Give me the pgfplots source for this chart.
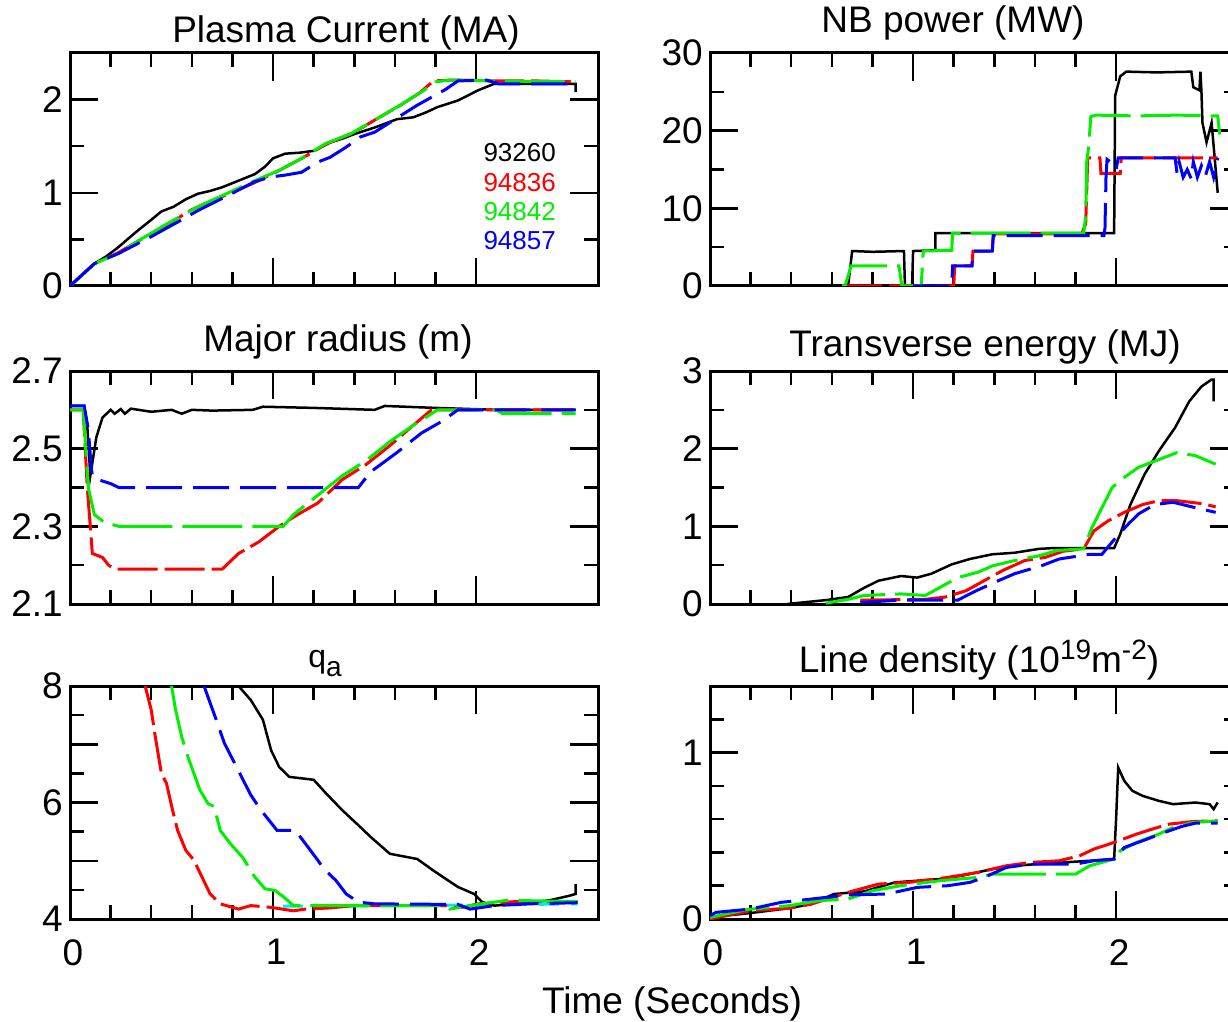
\documentclass[border=0pt]{standalone}
\usepackage{fontspec}
\setmainfont{Liberation Sans}
\usepackage{pgfplots}
\pgfplotsset{compat=1.18}
\definecolor{pgreen}{RGB}{0,240,0}
\definecolor{pred}{RGB}{255,0,0}
\definecolor{pblue}{RGB}{0,0,255}
\definecolor{pcyan}{RGB}{0,230,255}
\pgfplotsset{
  panel/.style={
    scale only axis, width=528pt, height=233pt, anchor=south west,
    xmin=0, xmax=2.6, xtick={0,1,2}, minor x tick num=4,
    tick align=inside, xtick pos=both, ytick pos=both,
    major tick length=28pt, minor tick length=14pt,
    tick style={line width=2.5pt, black},
    axis line style={line width=3pt},
    xticklabels={},
    every tick label/.append style={font=\fontsize{37}{40}\selectfont},
    yticklabel style={inner sep=0pt, xshift=-7pt},
    xticklabel style={inner sep=0pt, yshift=-20pt, xshift=3pt},
    /pgf/number format/assume math mode=true,
  },
  sblack/.style={black, line width=2.5pt},
  sred/.style={pred, line width=3pt, dash pattern=on 40pt off 7pt},
  sgreen/.style={pgreen, line width=3pt, dash pattern=on 60pt off 10pt},
  sblue/.style={pblue, line width=3pt, dash pattern=on 36pt off 11pt},
  scyan/.style={pcyan, line width=3pt, dash pattern=on 20pt off 12pt},
}
\newcommand{\bigf}{\fontsize{37}{40}\selectfont}
\begin{document}
\begin{tikzpicture}
\useasboundingbox (0,0) rectangle (1228pt,1021pt);
% ---------- Plasma current ----------
\begin{axis}[panel, at={(70pt,735pt)}, ymin=0, ymax=2.5, ytick={0,1,2}, minor y tick num=1]
\addplot[sblack] coordinates {(0,0)(0.06,0.12)(0.12,0.24)(0.18,0.32)(0.24,0.42)(0.32,0.57)(0.40,0.71)(0.45,0.80)(0.51,0.85)(0.57,0.93)(0.63,0.99)(0.69,1.02)(0.75,1.06)(0.83,1.13)(0.91,1.20)(0.96,1.28)(1.00,1.37)(1.06,1.42)(1.13,1.43)(1.20,1.45)(1.28,1.54)(1.34,1.58)(1.40,1.63)(1.50,1.70)(1.61,1.79)(1.69,1.81)(1.75,1.86)(1.81,1.92)(1.91,1.99)(2.01,2.10)(2.09,2.17)(2.30,2.17)(2.49,2.17)(2.49,2.08)};
\addplot[sred] coordinates {(0,0)(0.12,0.24)(0.24,0.36)(0.35,0.50)(0.48,0.66)(0.60,0.82)(0.75,0.96)(0.90,1.10)(1.03,1.24)(1.15,1.38)(1.26,1.52)(1.40,1.65)(1.50,1.78)(1.62,1.93)(1.72,2.07)(1.79,2.20)(1.88,2.21)(2.10,2.20)(2.30,2.20)(2.49,2.19)};
\addplot[sgreen] coordinates {(0,0)(0.06,0.12)(0.12,0.24)(0.24,0.35)(0.34,0.49)(0.48,0.67)(0.63,0.85)(0.75,0.97)(0.91,1.13)(1.03,1.24)(1.14,1.37)(1.26,1.53)(1.38,1.63)(1.50,1.78)(1.61,1.92)(1.73,2.08)(1.80,2.19)(1.87,2.21)(2.10,2.20)(2.49,2.19)};
\addplot[sblue] coordinates {(0,0)(0.06,0.12)(0.12,0.24)(0.24,0.35)(0.40,0.53)(0.55,0.71)(0.63,0.81)(0.75,0.94)(0.91,1.12)(0.99,1.17)(1.06,1.19)(1.14,1.22)(1.22,1.33)(1.28,1.38)(1.36,1.49)(1.43,1.60)(1.50,1.65)(1.63,1.83)(1.71,1.94)(1.85,2.11)(1.91,2.20)(2.05,2.21)(2.11,2.17)(2.49,2.17)};
\end{axis}
% ---------- NB power ----------
\begin{axis}[panel, at={(710pt,735pt)}, ymin=0, ymax=30, ytick={0,10,20,30}, minor y tick num=1]
\addplot[sblack] coordinates {(0.65,0)(0.68,0)(0.70,4.5)(0.80,4.4)(0.955,4.5)(0.96,0)(0.995,0)(1.0,4.5)(1.11,4.6)(1.11,6.8)(1.99,6.8)(1.995,24.5)(2.02,27)(2.05,27.6)(2.20,27.5)(2.37,27.6)(2.38,25.6)(2.41,25.2)(2.415,27.6)(2.42,25)(2.425,21)(2.445,18.5)(2.47,21)(2.50,12)};
\addplot[sred] coordinates {(0.65,0)(1.20,0)(1.205,2.6)(1.29,2.6)(1.295,4.5)(1.39,4.5)(1.395,6.7)(1.83,6.7)(1.85,8)(1.86,16.5)(1.92,16.5)(1.925,14.5)(2.02,14.5)(2.025,16.5)(2.50,16.5)};
\addplot[sgreen] coordinates {(0.65,0)(0.665,0)(0.695,2.6)(0.93,2.6)(0.945,0)(1.04,0)(1.05,4.5)(1.19,4.6)(1.195,6.8)(1.84,6.8)(1.85,9)(1.855,16)(1.865,18)(1.875,21.8)(1.9,22)(2.1,21.9)(2.3,22)(2.50,21.9)(2.51,19.5)};
\addplot[sblue] coordinates {(1.0,0)(1.19,0)(1.195,2.6)(1.29,2.6)(1.295,4.5)(1.39,4.5)(1.395,6.5)(1.94,6.5)(1.945,7.5)(1.95,14)(1.955,16.3)(1.97,16)(2.0,15)(2.01,16.5)(2.29,16.5)(2.30,14.5)(2.31,16)(2.33,14)(2.35,15)(2.37,13.8)(2.38,16)(2.40,14)(2.42,15.5)(2.44,14.2)(2.46,16)(2.48,14)(2.50,16.5)};
\end{axis}
% ---------- Major radius ----------
\begin{axis}[panel, at={(70pt,417pt)}, ymin=2.1, ymax=2.7, ytick={2.1,2.3,2.5,2.7}, minor y tick num=1]
\addplot[sblack] coordinates {(0,2.61)(0.07,2.61)(0.085,2.56)(0.10,2.43)(0.13,2.53)(0.16,2.58)(0.20,2.60)(0.22,2.59)(0.25,2.602)(0.27,2.59)(0.30,2.603)(0.4,2.595)(0.5,2.60)(0.55,2.59)(0.6,2.60)(0.7,2.598)(0.9,2.60)(0.95,2.608)(1.2,2.605)(1.5,2.60)(1.55,2.61)(1.8,2.605)(2.1,2.60)(2.49,2.60)};
\addplot[sred] coordinates {(0,2.60)(0.065,2.60)(0.085,2.40)(0.10,2.30)(0.11,2.23)(0.16,2.22)(0.19,2.20)(0.22,2.19)(0.75,2.19)(0.83,2.23)(0.93,2.26)(1.03,2.30)(1.12,2.33)(1.22,2.36)(1.34,2.42)(1.46,2.46)(1.58,2.51)(1.69,2.56)(1.78,2.60)(2.49,2.60)};
\addplot[sgreen] coordinates {(0,2.60)(0.065,2.60)(0.09,2.40)(0.12,2.33)(0.17,2.31)(0.24,2.30)(1.05,2.30)(1.10,2.33)(1.22,2.38)(1.34,2.43)(1.46,2.47)(1.58,2.52)(1.69,2.56)(1.81,2.60)(2.10,2.60)(2.13,2.59)(2.49,2.59)};
\addplot[sblue] coordinates {(0,2.61)(0.07,2.61)(0.09,2.55)(0.105,2.45)(0.11,2.43)(0.14,2.42)(0.20,2.41)(0.24,2.40)(1.42,2.40)(1.48,2.44)(1.61,2.49)(1.73,2.54)(1.83,2.57)(1.91,2.60)(2.49,2.60)};
\end{axis}
% ---------- Transverse energy ----------
\begin{axis}[panel, at={(710pt,417pt)}, ymin=0, ymax=3, ytick={0,1,2,3}, minor y tick num=1]
\addplot[sblack] coordinates {(0.38,0)(0.57,0.05)(0.68,0.09)(0.76,0.21)(0.83,0.30)(0.94,0.36)(1.02,0.34)(1.09,0.39)(1.19,0.51)(1.28,0.58)(1.39,0.64)(1.50,0.66)(1.62,0.71)(1.69,0.72)(1.99,0.72)(2.02,0.90)(2.07,1.28)(2.14,1.67)(2.21,1.97)(2.29,2.27)(2.36,2.61)(2.42,2.80)(2.47,2.89)(2.48,2.89)(2.48,2.61)};
\addplot[sred] coordinates {(0.74,0.05)(1.06,0.06)(1.16,0.09)(1.26,0.17)(1.35,0.30)(1.44,0.43)(1.55,0.56)(1.65,0.60)(1.74,0.68)(1.84,0.71)(1.89,0.94)(1.96,1.07)(2.04,1.18)(2.13,1.28)(2.21,1.33)(2.30,1.33)(2.43,1.29)(2.49,1.25)};
\addplot[sgreen] coordinates {(0.57,0.01)(0.68,0.06)(0.76,0.11)(0.94,0.13)(1.06,0.11)(1.13,0.21)(1.22,0.34)(1.32,0.41)(1.39,0.49)(1.50,0.56)(1.62,0.62)(1.71,0.69)(1.84,0.71)(1.88,0.98)(1.93,1.24)(1.98,1.50)(2.04,1.63)(2.11,1.76)(2.21,1.86)(2.30,1.95)(2.39,1.91)(2.49,1.80)};
\addplot[sblue] coordinates {(0.74,0.02)(0.94,0.05)(1.22,0.05)(1.31,0.17)(1.42,0.30)(1.50,0.39)(1.63,0.49)(1.72,0.58)(1.87,0.64)(1.93,0.64)(2.00,0.86)(2.06,1.03)(2.11,1.16)(2.19,1.28)(2.28,1.31)(2.39,1.24)(2.49,1.18)};
\end{axis}
% ---------- q_a ----------
\begin{axis}[panel, at={(70pt,102pt)}, ymin=4, ymax=8, ytick={4,5,6,7,8}, yticklabels={4,,6,,8}, minor y tick num=1, xticklabels={0,1,2}]
\addplot[scyan] coordinates {(1.05,4.22)(1.6,4.23)(2.0,4.24)(2.5,4.26)};
\addplot[sblack] coordinates {(0.83,8)(0.89,7.76)(0.95,7.42)(0.99,6.90)(1.03,6.61)(1.08,6.44)(1.20,6.39)(1.26,6.16)(1.34,5.87)(1.42,5.61)(1.48,5.41)(1.575,5.12)(1.71,5.03)(1.79,4.83)(1.91,4.55)(1.99,4.43)(2.03,4.29)(2.09,4.23)(2.20,4.26)(2.36,4.32)(2.46,4.40)(2.49,4.43)(2.49,4.60)};
\addplot[sred] coordinates {(0.37,8)(0.40,7.59)(0.42,7.13)(0.45,6.5)(0.475,6.33)(0.505,5.87)(0.53,5.52)(0.57,5.18)(0.61,5.01)(0.65,4.72)(0.69,4.43)(0.74,4.26)(0.83,4.17)(0.89,4.23)(0.99,4.20)(1.10,4.14)(1.16,4.17)(1.28,4.19)(1.40,4.23)(1.85,4.23)(1.87,4.20)(1.93,4.20)(2.01,4.26)(2.20,4.30)(2.50,4.30)};
\addplot[sgreen] coordinates {(0.50,8)(0.52,7.59)(0.55,7.13)(0.58,6.79)(0.61,6.5)(0.64,6.21)(0.68,5.98)(0.71,5.93)(0.74,5.52)(0.79,5.29)(0.85,5.06)(0.91,4.72)(0.96,4.52)(1.01,4.49)(1.055,4.37)(1.10,4.23)(1.85,4.23)(1.87,4.17)(1.97,4.23)(2.15,4.32)(2.50,4.30)};
\addplot[sblue] coordinates {(0.66,8)(0.72,7.42)(0.76,7.02)(0.82,6.61)(0.89,6.13)(0.94,5.87)(1.02,5.52)(1.11,5.52)(1.16,5.29)(1.22,5.01)(1.25,4.86)(1.31,4.66)(1.36,4.43)(1.42,4.29)(1.50,4.26)(1.91,4.25)(1.97,4.17)(2.09,4.23)(2.26,4.26)(2.50,4.28)};
\end{axis}
% ---------- Line density ----------
\begin{axis}[panel, at={(710pt,102pt)}, ymin=0, ymax=1.4, ytick={0,1}, minor ytick={0.2,0.4,0.6,0.8,1.2}, xticklabels={0,1,2}]
\addplot[sblack] coordinates {(0,0.01)(0.2,0.036)(0.39,0.065)(0.5,0.09)(0.61,0.15)(0.76,0.166)(0.91,0.22)(1.02,0.23)(1.13,0.24)(1.24,0.26)(1.39,0.30)(1.50,0.32)(1.61,0.33)(1.87,0.35)(1.99,0.36)(2.0,0.61)(2.01,0.91)(2.04,0.83)(2.08,0.77)(2.13,0.74)(2.21,0.71)(2.28,0.69)(2.39,0.70)(2.46,0.69)(2.48,0.66)(2.50,0.70)};
\addplot[sred] coordinates {(0,0)(0.2,0.05)(0.39,0.065)(0.5,0.09)(0.68,0.16)(0.83,0.21)(0.98,0.22)(1.17,0.25)(1.32,0.28)(1.46,0.32)(1.58,0.34)(1.72,0.35)(1.82,0.38)(1.89,0.42)(1.99,0.46)(2.10,0.51)(2.19,0.545)(2.26,0.57)(2.38,0.586)(2.50,0.59)};
\addplot[sgreen] coordinates {(0,0.01)(0.18,0.057)(0.39,0.08)(0.535,0.11)(0.68,0.12)(0.80,0.17)(0.94,0.20)(1.13,0.23)(1.32,0.25)(1.39,0.27)(1.50,0.27)(1.80,0.27)(1.87,0.32)(1.99,0.36)(2.02,0.41)(2.10,0.46)(2.21,0.51)(2.28,0.55)(2.38,0.58)(2.50,0.59)};
\addplot[sblue] coordinates {(0,0.02)(0.03,0.04)(0.2,0.06)(0.35,0.10)(0.50,0.12)(0.68,0.145)(0.87,0.15)(1.02,0.19)(1.17,0.20)(1.28,0.22)(1.35,0.25)(1.46,0.31)(1.58,0.33)(1.80,0.33)(1.89,0.35)(1.99,0.36)(2.04,0.43)(2.13,0.47)(2.25,0.525)(2.32,0.555)(2.39,0.576)(2.50,0.576)};
\end{axis}
% ---------- titles & legend ----------
\node[anchor=base, inner sep=0pt] at (346pt,978pt) {\bigf Plasma Current (MA)};
\node[anchor=base, inner sep=0pt] at (953pt,988pt) {\bigf NB power (MW)};
\node[anchor=base, inner sep=0pt] at (338pt,669pt) {\bigf Major radius (m)};
\node[anchor=base, inner sep=0pt] at (985pt,664pt) {\bigf Transverse energy (MJ)};
\node[anchor=base, inner sep=0pt] at (325pt,354pt) {\fontsize{32}{36}\selectfont q\raisebox{-9pt}{\fontsize{28}{30}\selectfont a}};
\node[anchor=base, inner sep=0pt] at (979pt,349pt) {\bigf Line density (10\raisebox{12pt}{\fontsize{28}{30}\selectfont 19}m\raisebox{12pt}{\fontsize{28}{30}\selectfont -2})};
\node[anchor=base, inner sep=0pt] at (672pt,8pt) {\bigf Time (Seconds)};
\begin{scope}[every node/.style={anchor=east, inner sep=0pt, font=\fontsize{26}{28}\selectfont}]
\node[text=black] at (556pt,868pt) {93260};
\node[text=pred] at (556pt,838pt) {94836};
\node[text=pgreen] at (556pt,809pt) {94842};
\node[text=pblue] at (556pt,780pt) {94857};
\end{scope}
\end{tikzpicture}
\end{document}
